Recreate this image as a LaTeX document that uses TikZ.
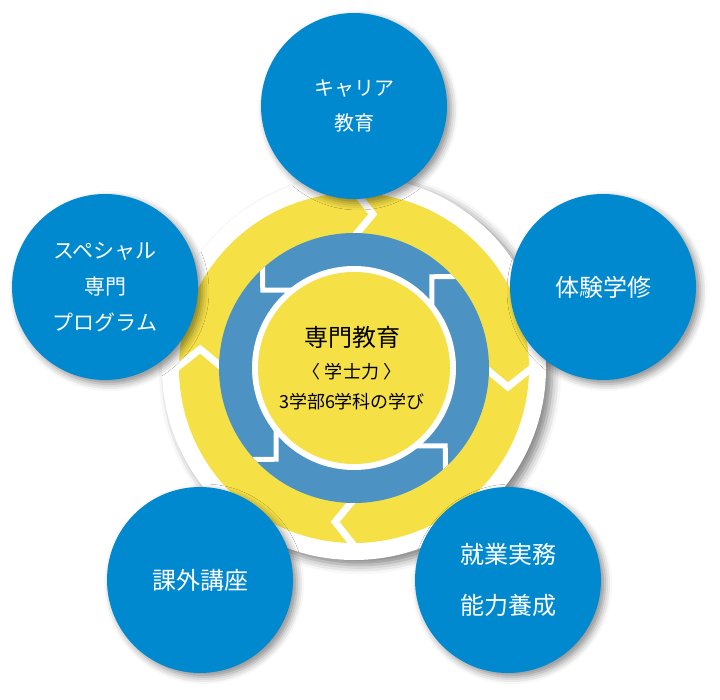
\documentclass[tikz,border=0pt]{standalone}
\usepackage{fontspec}
\newfontfamily\jp{Noto Sans CJK JP}
\usetikzlibrary{shadows.blur}
\definecolor{bubbleblue}{RGB}{0,137,207}
\definecolor{ringblue}{RGB}{76,147,196}
\definecolor{ringyellow}{RGB}{245,224,70}
\tikzset{
  softshadow/.style={blur shadow={shadow xshift=4pt, shadow yshift=-4pt, shadow blur radius=7pt, shadow opacity=45}},
  baseshadow/.style={blur shadow={shadow xshift=6pt, shadow yshift=-5pt, shadow blur radius=9pt, shadow opacity=50}},
  bubble/.style={circle, fill=bubbleblue, minimum size=186pt, inner sep=0pt, text=white, align=center, softshadow},
  basedisk/.style={circle, fill=white, minimum size=384pt, inner sep=0pt, baseshadow},
  coredisk/.style={circle, fill=ringyellow, minimum size=192pt, inner sep=0pt},
  ycut/.style={draw=white, line width=7pt, line join=miter},
  bcut/.style={draw=white, line width=5pt, line join=miter},
  coretext/.style={inner sep=0pt, text=black}
}
\begin{document}
\begin{tikzpicture}[x=1pt,y=-1pt]
\useasboundingbox (0,0) rectangle (720,700);
% base white disk with shadow
\node[basedisk] (base) at (354,368) {};
\begin{scope}[shift={(354,368)}, yscale=-1]
  \fill[ringyellow] (0,0) circle (175);
  \foreach \t in {0,90,180,270}
    \draw[ycut] ({\t+2}:186) -- ({\t-7}:155) -- ({\t+2}:126);
  \fill[ringblue] (0,0) circle (135);
  \begin{scope}
    \clip (0,0) circle (135);
    \foreach \t in {45,135,225,315}
      \draw[bcut, rotate=\t] (140,-10.5) -- (119.5,9.5) -- (98,-12);
  \end{scope}
  \fill[white] (0,0) circle (102);
\end{scope}
\node[coredisk] (core) at (354,368) {};
\node[coretext, font=\jp\fontsize{24}{28}\selectfont] (title) at (352,337) {専門教育};
\node[coretext, font=\jp\fontsize{18}{22}\selectfont] (sub) at (352,372) {〈 学士力 〉};
\node[coretext, font=\jp\fontsize{18}{22}\selectfont] (sub2) at (352,402) {3学部6学科の学び};
% outer bubbles
\node[bubble, font=\jp\fontsize{20}{35}\selectfont] (career) at (354,106) {キャリア\\教育};
\node[bubble, font=\jp\fontsize{24}{28}\selectfont] (taiken) at (603,287) {体験学修};
\node[bubble, font=\jp\fontsize{24}{51}\selectfont] (shugyo) at (508,580) {就業実務\\能力養成};
\node[bubble, font=\jp\fontsize{24}{28}\selectfont] (kagai) at (200,580) {課外講座};
\node[bubble, font=\jp\fontsize{21}{36}\selectfont] (special) at (105,287) {スペシャル\\専門\\プログラム};
\end{tikzpicture}
\end{document}
